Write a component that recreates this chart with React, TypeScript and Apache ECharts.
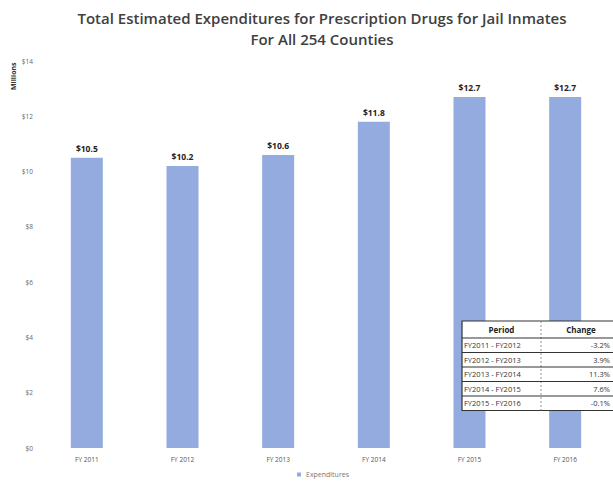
import React, { useEffect, useRef } from "react";
import * as echarts from "echarts";

const categories = ["FY 2011", "FY 2012", "FY 2013", "FY 2014", "FY 2015", "FY 2016"];
const expenditures = [10.5, 10.2, 10.6, 11.8, 12.7, 12.7];
const periods = ["FY2011 - FY2012", "FY2012 - FY2013", "FY2013 - FY2014", "FY2014 - FY2015", "FY2015 - FY2016"];
const changes = ["-3.2%", "3.9%", "11.3%", "7.6%", "-0.1%"];

export default function App() {
  const ref = useRef<HTMLDivElement>(null);
  useEffect(() => {
    if (!ref.current) return;
    const chart = echarts.init(ref.current, null, { renderer: "svg" });
    const tLeft = 462;
    const tTop = 321;
    const colX = 541;
    const tRight = 640;
    const headH = 17;
    const rowH = 14.5;
    const tBottom = tTop + headH + rowH * periods.length;
    const font = "'Open Sans', sans-serif";
    const graphics: any[] = [
      { type: "text", x: 10, y: 90, rotation: Math.PI / 2, style: { text: "Millions", font: `bold 7px ${font}`, fill: "#333", align: "left", verticalAlign: "top" }, z: 12 },
      { type: "rect", shape: { x: tLeft, y: tTop, width: tRight - tLeft, height: tBottom - tTop }, style: { fill: "#ffffff", stroke: "#333", lineWidth: 1.2 }, z: 10 },
      { type: "line", shape: { x1: colX, y1: tTop, x2: colX, y2: tBottom }, style: { stroke: "#777", lineWidth: 0.8, lineDash: [2, 2] }, z: 11 },
      { type: "line", shape: { x1: tLeft, y1: tTop + headH, x2: tRight, y2: tTop + headH }, style: { stroke: "#333", lineWidth: 1.2 }, z: 11 },
      { type: "text", x: (tLeft + colX) / 2, y: tTop + headH / 2, style: { text: "Period", font: `bold 8px ${font}`, fill: "#222", align: "center", verticalAlign: "middle" }, z: 12 },
      { type: "text", x: (colX + 613) / 2 + 4, y: tTop + headH / 2, style: { text: "Change", font: `bold 8px ${font}`, fill: "#222", align: "center", verticalAlign: "middle" }, z: 12 },
    ];
    periods.forEach((p, i) => {
      const y0 = tTop + headH + rowH * i;
      if (i > 0) {
        graphics.push({ type: "line", shape: { x1: tLeft, y1: y0, x2: tRight, y2: y0 }, style: { stroke: "#333", lineWidth: 1 }, z: 11 });
      }
      graphics.push({ type: "text", x: tLeft + 2, y: y0 + rowH / 2, style: { text: p, font: `7.5px ${font}`, fill: "#333", align: "left", verticalAlign: "middle" }, z: 12 });
      graphics.push({ type: "text", x: 610, y: y0 + rowH / 2, style: { text: changes[i], font: `7.5px ${font}`, fill: "#333", align: "right", verticalAlign: "middle" }, z: 12 });
    });
    chart.setOption({
      animation: false,
      backgroundColor: "#ffffff",
      title: {
        text: "Total Estimated Expenditures for Prescription Drugs for Jail Inmates\nFor All 254 Counties",
        left: 317,
        textAlign: "center",
        top: 2,
        textStyle: { fontFamily: font, fontSize: 15, fontWeight: 600, color: "#404040", lineHeight: 21 },
      },
      legend: {
        bottom: 6,
        left: 292,
        data: ["Expenditures"],
        itemWidth: 4,
        itemHeight: 4,
        itemGap: 4,
        icon: "rect",
        textStyle: { fontFamily: font, fontSize: 7, color: "#777" },
      },
      grid: { left: 39, width: 602, top: 61, bottom: 41 },
      xAxis: {
        type: "category",
        data: categories,
        axisLine: { show: false },
        axisTick: { show: false },
        axisLabel: { fontFamily: font, fontSize: 6.5, color: "#555", margin: 8 },
      },
      yAxis: {
        type: "value",
        min: 0,
        max: 14,
        interval: 2,
        splitLine: { show: false },
        axisLine: { show: false },
        axisTick: { show: false },
        axisLabel: { fontFamily: font, fontSize: 6.5, color: "#666", margin: 6, formatter: (v: number) => "$" + v },
      },
      series: [
        {
          name: "Expenditures",
          type: "bar",
          data: expenditures,
          barWidth: 32,
          itemStyle: { color: "#94ABDF" },
          label: {
            show: true,
            position: "top",
            distance: 5,
            formatter: (p: any) => "$" + p.value.toFixed(1),
            fontFamily: font,
            fontSize: 8.5,
            fontWeight: "bold",
            color: "#222",
          },
        },
      ],
      graphic: graphics,
    });
    return () => chart.dispose();
  }, []);
  return <div ref={ref} style={{ position: "absolute", left: 0, top: 0, width: 613, height: 489 }} />;
}
